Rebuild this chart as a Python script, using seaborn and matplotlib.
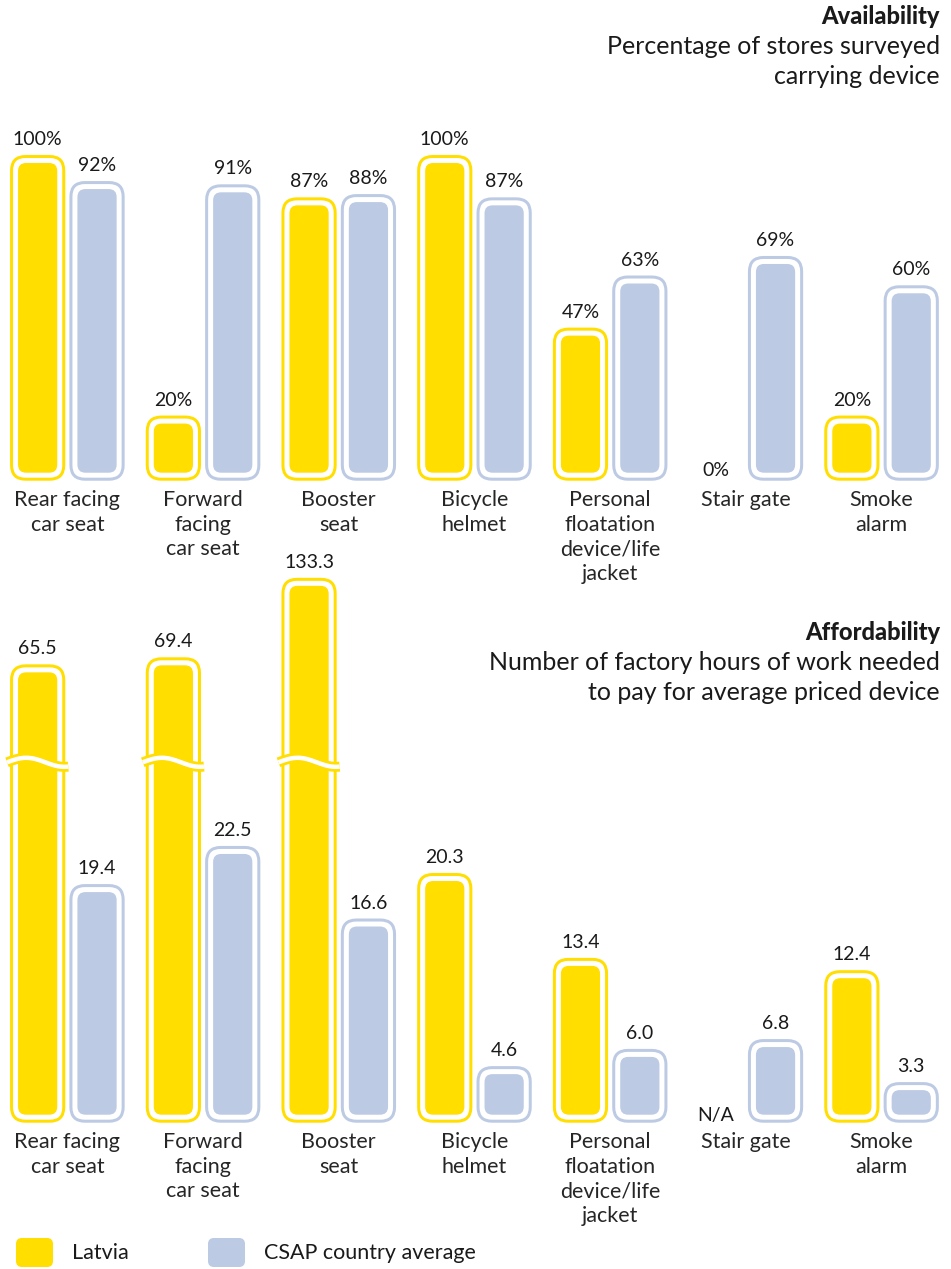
import numpy as np
import pandas as pd
import matplotlib
matplotlib.use('Agg')
import matplotlib.pyplot as plt
import seaborn as sns
from matplotlib.patches import FancyBboxPatch
from matplotlib.lines import Line2D
from matplotlib.transforms import IdentityTransform

# Chart data
devices = ['Rear facing\ncar seat', 'Forward\nfacing\ncar seat', 'Booster\nseat',
           'Bicycle\nhelmet', 'Personal\nfloatation\ndevice/life\njacket',
           'Stair gate', 'Smoke\nalarm']
groups = ['Latvia', 'CSAP country average']
avail_latvia = [100, 20, 87, 100, 47, 0, 20]
avail_csap = [92, 91, 88, 87, 63, 69, 60]
afford_latvia = [65.5, 69.4, 133.3, 20.3, 13.4, np.nan, 12.4]
afford_csap = [19.4, 22.5, 16.6, 4.6, 6.0, 6.8, 3.3]

YELLOW = '#FFDE00'
BLUE = '#BCCAE4'
palette = {'Latvia': YELLOW, 'CSAP country average': BLUE}

W, H, DPI = 951, 1269, 100

sns.set_theme(style='white')
plt.rcParams['font.family'] = ['Lato', 'DejaVu Sans']
plt.rcParams['text.color'] = '#1a1a1a'

fig = plt.figure(figsize=(W / DPI, H / DPI), dpi=DPI)


def fx(px):
    return px / W


def fy(px):
    return 1 - px / H


# broken axis for the very long affordability bars
BREAK = 29.3
C = 9.9


def fwd(v):
    v = np.asarray(v, dtype=float)
    return np.where(v <= BREAK, v, BREAK + C * np.log(np.maximum(v, BREAK) / BREAK))


def inv(u):
    u = np.asarray(u, dtype=float)
    return np.where(u <= BREAK, u, BREAK * np.exp(np.minimum(u - BREAK, 200) / C))


PITCH = 135.7
G0 = 67.35
xlim = (-G0 / PITCH, (W - G0) / PITCH)

ax_top = fig.add_axes([0, fy(480.7), 1, 423.4 / H])
ax_bot = fig.add_axes([0, fy(1122.7), 1, 615 / H])

avail = pd.DataFrame({'device': devices * 2,
                      'group': [groups[0]] * 7 + [groups[1]] * 7,
                      'value': avail_latvia + avail_csap})
afford = pd.DataFrame({'device': devices * 2,
                       'group': [groups[0]] * 7 + [groups[1]] * 7,
                       'value': afford_latvia + afford_csap})

for ax, df in [(ax_top, avail), (ax_bot, afford)]:
    sns.barplot(data=df, x='device', y='value', hue='group', order=devices,
                hue_order=groups, palette=palette, width=0.875, gap=0.07,
                errorbar=None, legend=False, ax=ax)
    sns.despine(ax=ax, left=True, bottom=True)
    ax.patch.set_visible(False)
    ax.set_xlim(xlim)
    ax.set_xlabel('')
    ax.set_ylabel('')
    ax.set_yticks([])
    ax.tick_params(axis='x', length=0, pad=7, labelsize=15.5)
    for lbl in ax.get_xticklabels():
        lbl.set_linespacing(1.28)

ax_top.set_ylim(0, 130)
ax_bot.set_yscale('function', functions=(fwd, inv))
ax_bot.set_ylim(0, float(inv(50)))
ax_bot.set_yticks([])
ax_bot.yaxis.set_minor_locator(matplotlib.ticker.NullLocator())


def rounded(x, y, w, h, r, **kw):
    r = max(min(r, w / 2, h / 2), 0.5)
    return FancyBboxPatch((x, y), w, h, boxstyle=f'round,pad=0,rounding_size={r}',
                          transform=IdentityTransform(), **kw)


def draw_bars(ax, series, fmt, broken=False):
    offset = None
    for container, group in zip(ax.containers, groups):
        vals = series[group]
        color = palette[group]
        seen = set()
        for p in container:
            cx = p.get_x() + p.get_width() / 2
            i = int(round(cx))
            seen.add(i)
            if group == groups[0] and offset is None:
                offset = cx - i
            v = vals[i]
            p.set_visible(False)
            pad = 10 if v > 0 else 5
            ax.annotate(fmt(v), xy=(cx, v), xytext=(0, pad), textcoords='offset pixels',
                        ha='center', va='baseline', fontsize=14, annotation_clip=False)
            if not v > 0:
                continue
            x0, y0 = ax.transData.transform((p.get_x(), 0))
            x1, y1 = ax.transData.transform((p.get_x() + p.get_width(), v))
            w, h = x1 - x0, y1 - y0
            fig.add_artist(rounded(x0 + 1.5, y0 + 1.5, w - 3, h - 3, 14,
                                   fill=False, ec=color, lw=3 * 72 / DPI))
            fig.add_artist(rounded(x0 + 8, y0 + 8, w - 16, h - 16, 8,
                                   fc=color, ec='none'))
            if broken and v > BREAK:
                yb = ax.transData.transform((0, BREAK))[1]
                t = np.linspace(0, 1, 60)
                xs = x0 - 3 + t * (w + 6)
                ys = yb + 4.5 * np.sin(1.6 * np.pi * t)
                fig.add_artist(Line2D(xs, ys, color=color, lw=10 * 72 / DPI,
                                      solid_capstyle='butt',
                                      transform=IdentityTransform()))
                fig.add_artist(Line2D(xs, ys, color='white', lw=4.5 * 72 / DPI,
                                      solid_capstyle='butt',
                                      transform=IdentityTransform()))
        # missing values
        for i, v in enumerate(vals):
            if i not in seen and not np.isfinite(v):
                ax.annotate('N/A', xy=(i + offset, 0), xytext=(0, 2),
                            textcoords='offset pixels', ha='center', va='baseline',
                            fontsize=14, annotation_clip=False)


draw_bars(ax_top, {groups[0]: avail_latvia, groups[1]: avail_csap},
          lambda v: f'{v:.0f}%')
draw_bars(ax_bot, {groups[0]: afford_latvia, groups[1]: afford_csap},
          lambda v: f'{v:.1f}', broken=True)

# headers
fig.text(fx(940), fy(17), 'Availability', ha='right', va='center',
         fontsize=17, fontweight='black')
fig.text(fx(940), fy(47), 'Percentage of stores surveyed', ha='right', va='center', fontsize=18)
fig.text(fx(940), fy(76), 'carrying device', ha='right', va='center', fontsize=18)
fig.text(fx(940), fy(632), 'Affordability', ha='right', va='center',
         fontsize=17, fontweight='black')
fig.text(fx(940), fy(663), 'Number of factory hours of work needed', ha='right',
         va='center', fontsize=18)
fig.text(fx(940), fy(692), 'to pay for average priced device', ha='right',
         va='center', fontsize=18)

# legend
for x0, label, color in [(16, 'Latvia', YELLOW), (208, 'CSAP country average', BLUE)]:
    fig.add_artist(rounded(x0, H - 1267, 37, 29, 6, fc=color, ec='none'))
    fig.text(fx(x0 + 56), fy(1253), label, ha='left', va='center', fontsize=15.5)

fig.savefig('out.png', dpi=DPI)
